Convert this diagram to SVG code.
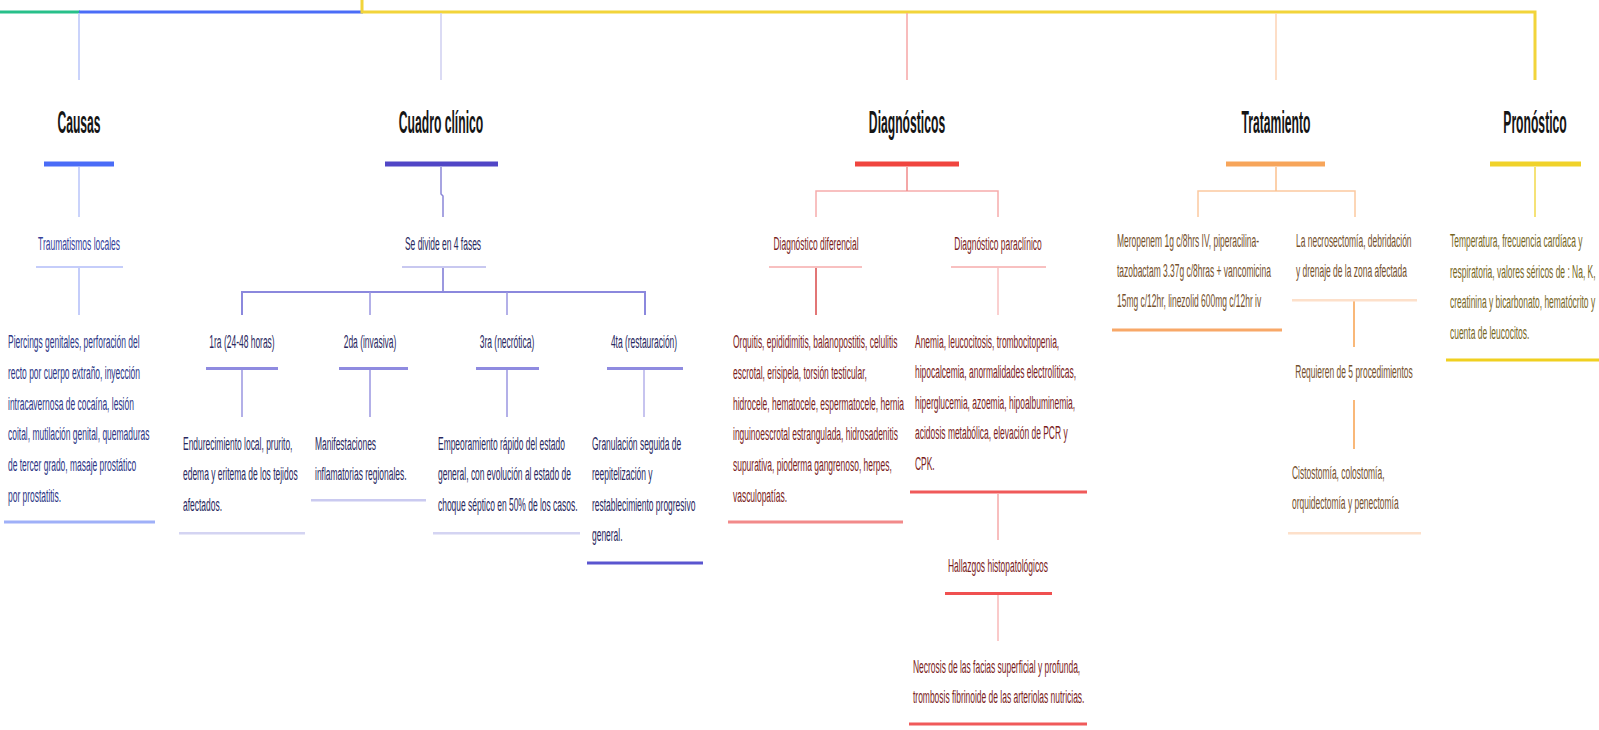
<svg xmlns="http://www.w3.org/2000/svg" width="1599" height="730" viewBox="0 0 1599 730">
<style>
text{font-family:"Liberation Sans",Arial,sans-serif}
.t{font-size:32px;font-weight:bold;fill:#151515;text-anchor:middle}
.b{font-size:18px}
.m{text-anchor:middle}
.cb{fill:#2b3585}
.cc{fill:#28285e}
.cd{fill:#7a1c1c}
.ct{fill:#74502c}
.cp{fill:#76661e}
line,path,polyline{fill:none}
</style>
<rect width="1599" height="730" fill="#ffffff"/>
<g id="connectors">
<line x1="0" y1="12" x2="80" y2="12" stroke="#27c08a" stroke-width="3"/>
<line x1="79" y1="12" x2="363" y2="12" stroke="#4a6cf7" stroke-width="3"/>
<path d="M362,0 V12 H1535 V80" stroke="#f2d43a" stroke-width="3"/>
<line x1="79" y1="13" x2="79" y2="80" stroke="#b8c4fa" stroke-width="1.5"/>
<line x1="441" y1="13" x2="441" y2="80" stroke="#cfcff0" stroke-width="1.5"/>
<line x1="907" y1="13" x2="907" y2="80" stroke="#f6a6a6" stroke-width="1.5"/>
<line x1="1276" y1="13" x2="1276" y2="80" stroke="#fcd3b4" stroke-width="1.5"/>
<line x1="79" y1="167" x2="79" y2="217" stroke="#b8c4fa" stroke-width="1.5"/>
<line x1="79" y1="268" x2="79" y2="315" stroke="#b0bcf8" stroke-width="1.5"/>
<path d="M441,167 V194 L443,196 V217" stroke="#8a86d8" stroke-width="1.5"/>
<line x1="443" y1="268" x2="443" y2="292" stroke="#7a76d4" stroke-width="1.5"/>
<path d="M242,315 V292 H645 V315" stroke="#8b88dd" stroke-width="2"/>
<line x1="370" y1="292" x2="370" y2="315" stroke="#9a96e0" stroke-width="1.5"/>
<line x1="507" y1="292" x2="507" y2="315" stroke="#9a96e0" stroke-width="1.5"/>
<line x1="242" y1="369" x2="242" y2="417" stroke="#9a96e0" stroke-width="1.5"/>
<line x1="370" y1="369" x2="370" y2="417" stroke="#9a96e0" stroke-width="1.5"/>
<line x1="507" y1="369" x2="507" y2="417" stroke="#9a96e0" stroke-width="1.5"/>
<line x1="644" y1="369" x2="644" y2="417" stroke="#b4b0ea" stroke-width="1.5"/>
<path d="M816,217 V191 H998 V217" stroke="#f6acac" stroke-width="1.5"/>
<line x1="907" y1="167" x2="907" y2="191" stroke="#f08a8a" stroke-width="1.5"/>
<line x1="816" y1="268" x2="816" y2="315" stroke="#d84848" stroke-width="1.5"/>
<line x1="998" y1="268" x2="998" y2="315" stroke="#f8c0c0" stroke-width="1.5"/>
<line x1="998" y1="494" x2="998" y2="540" stroke="#f6a8a8" stroke-width="1.5"/>
<line x1="998" y1="595" x2="998" y2="641" stroke="#f8b8b8" stroke-width="1.5"/>
<path d="M1198,217 V191 H1355 V217" stroke="#fbc9a0" stroke-width="1.5"/>
<line x1="1276" y1="167" x2="1276" y2="191" stroke="#fbc08e" stroke-width="1.5"/>
<line x1="1354" y1="301" x2="1354" y2="347" stroke="#f7a04c" stroke-width="1.5"/>
<line x1="1354" y1="400" x2="1354" y2="449" stroke="#f7a04c" stroke-width="1.5"/>
<line x1="1535" y1="167" x2="1535" y2="217" stroke="#f2d84a" stroke-width="1.5"/>
</g>
<g id="causas">
<text class="t" transform="translate(79,133) scale(0.38,1)">Causas</text>
<rect x="44" y="161.5" width="70" height="5" fill="#4a6cf7"/>
</g>
<g id="traumatismos">
<text class="b m" fill="#34409a" transform="translate(79,250) scale(0.47,1)">Traumatismos locales</text>
<rect x="36" y="266" width="87" height="2" fill="#c5cdfa"/>
</g>
<g id="causas-body">
<text class="b cb" transform="translate(8,348) scale(0.47,1)"><tspan x="0">Piercings genitales, perforación del</tspan><tspan x="0" dy="30.8">recto por cuerpo extraño, inyección</tspan><tspan x="0" dy="30.8">intracavernosa de cocaína, lesión</tspan><tspan x="0" dy="30.8">coital, mutilación genital, quemaduras</tspan><tspan x="0" dy="30.8">de tercer grado, masaje prostático</tspan><tspan x="0" dy="30.8">por prostatitis.</tspan></text>
<rect x="4" y="520.5" width="151" height="3" fill="#9fb0f8"/>
</g>
<g id="cuadro">
<text class="t" transform="translate(441,133) scale(0.38,1)">Cuadro clínico</text>
<rect x="385" y="161.5" width="113" height="5" fill="#5146c6"/>
</g>
<g id="fases">
<text class="b m cc" transform="translate(443,250) scale(0.47,1)">Se divide en 4 fases</text>
<rect x="402" y="266" width="84" height="2" fill="#c8c8f0"/>
</g>
<g id="fase1">
<text class="b m cc" transform="translate(242,348) scale(0.47,1)">1ra (24-48 horas)</text>
<rect x="206" y="367" width="72" height="3" fill="#8f8be0"/>
</g>
<g id="fase2">
<text class="b m cc" transform="translate(370,348) scale(0.47,1)">2da (invasiva)</text>
<rect x="339" y="367" width="69" height="3" fill="#8f8be0"/>
</g>
<g id="fase3">
<text class="b m cc" transform="translate(507,348) scale(0.47,1)">3ra (necrótica)</text>
<rect x="476" y="367" width="63" height="3" fill="#8f8be0"/>
</g>
<g id="fase4">
<text class="b m cc" transform="translate(644,348) scale(0.47,1)">4ta (restauración)</text>
<rect x="607" y="367" width="76" height="3" fill="#8f8be0"/>
</g>
<g id="fase1-body">
<text class="b cc" transform="translate(183,450) scale(0.47,1)"><tspan x="0">Endurecimiento local, prurito,</tspan><tspan x="0" dy="30.5">edema y eritema de los tejidos</tspan><tspan x="0" dy="30.5">afectados.</tspan></text>
<rect x="179" y="532" width="126" height="2.5" fill="#d4d4f2"/>
</g>
<g id="fase2-body">
<text class="b cc" transform="translate(315,450) scale(0.47,1)"><tspan x="0">Manifestaciones</tspan><tspan x="0" dy="30.5">inflamatorias regionales.</tspan></text>
<rect x="311" y="499" width="115" height="2.5" fill="#cacaf0"/>
</g>
<g id="fase3-body">
<text class="b cc" transform="translate(438,450) scale(0.47,1)"><tspan x="0">Empeoramiento rápido del estado</tspan><tspan x="0" dy="30.5">general, con evolución al estado de</tspan><tspan x="0" dy="30.5">choque séptico en 50% de los casos.</tspan></text>
<rect x="433" y="532" width="147" height="2.5" fill="#d4d4f2"/>
</g>
<g id="fase4-body">
<text class="b cc" transform="translate(592,450) scale(0.47,1)"><tspan x="0">Granulación seguida de</tspan><tspan x="0" dy="30.5">reepitelización y</tspan><tspan x="0" dy="30.5">restablecimiento progresivo</tspan><tspan x="0" dy="30.5">general.</tspan></text>
<rect x="587" y="561.5" width="116" height="3" fill="#5a55cf"/>
</g>
<g id="diagnosticos">
<text class="t" transform="translate(907,133) scale(0.38,1)">Diagnósticos</text>
<rect x="855" y="161.5" width="104" height="5" fill="#f0453f"/>
</g>
<g id="diferencial">
<text class="b m cd" transform="translate(816,250) scale(0.47,1)">Diagnóstico diferencial</text>
<rect x="769" y="266" width="93" height="2" fill="#f8c0c0"/>
</g>
<g id="paraclinico">
<text class="b m cd" transform="translate(998,250) scale(0.47,1)">Diagnóstico paraclínico</text>
<rect x="951" y="266" width="95" height="2" fill="#f8c0c0"/>
</g>
<g id="diferencial-body">
<text class="b cd" transform="translate(733,348) scale(0.47,1)"><tspan x="0">Orquitis, epididimitis, balanopostitis, celulitis</tspan><tspan x="0" dy="30.8">escrotal, erisipela, torsión testicular,</tspan><tspan x="0" dy="30.8">hidrocele, hematocele, espermatocele, hernia</tspan><tspan x="0" dy="30.8">inguinoescrotal estrangulada, hidrosadenitis</tspan><tspan x="0" dy="30.8">supurativa, pioderma gangrenoso, herpes,</tspan><tspan x="0" dy="30.8">vasculopatías.</tspan></text>
<rect x="728" y="520.5" width="175" height="3" fill="#f28a8a"/>
</g>
<g id="paraclinico-body">
<text class="b cd" transform="translate(915,348) scale(0.47,1)"><tspan x="0">Anemia, leucocitosis, trombocitopenia,</tspan><tspan x="0" dy="30.5">hipocalcemia, anormalidades electrolíticas,</tspan><tspan x="0" dy="30.5">hiperglucemia, azoemia, hipoalbuminemia,</tspan><tspan x="0" dy="30.5">acidosis metabólica, elevación de PCR y</tspan><tspan x="0" dy="30.5">CPK.</tspan></text>
<rect x="910" y="490.5" width="177" height="3" fill="#f05a5a"/>
</g>
<g id="hallazgos">
<text class="b m cd" transform="translate(998,572) scale(0.47,1)">Hallazgos histopatológicos</text>
<rect x="945" y="592" width="107" height="3" fill="#f05050"/>
</g>
<g id="hallazgos-body">
<text class="b cd" transform="translate(913,673) scale(0.47,1)"><tspan x="0">Necrosis de las facias superficial y profunda,</tspan><tspan x="0" dy="30">trombosis fibrinoide de las arteriolas nutricias.</tspan></text>
<rect x="909" y="722.5" width="178" height="3" fill="#f05a5a"/>
</g>
<g id="tratamiento">
<text class="t" transform="translate(1276,133) scale(0.38,1)">Tratamiento</text>
<rect x="1226" y="161.5" width="99" height="5" fill="#f7a55a"/>
</g>
<g id="farmacos">
<text class="b ct" transform="translate(1117,247) scale(0.47,1)"><tspan x="0">Meropenem 1g c/8hrs IV, piperacilina-</tspan><tspan x="0" dy="30">tazobactam 3.37g  c/8hras + vancomicina</tspan><tspan x="0" dy="30">15mg c/12hr, linezolid 600mg c/12hr iv</tspan></text>
<rect x="1112" y="328.5" width="170" height="3" fill="#f8a868"/>
</g>
<g id="necrosectomia">
<text class="b ct" transform="translate(1296,247) scale(0.47,1)"><tspan x="0">La necrosectomía, debridación</tspan><tspan x="0" dy="30.5">y drenaje de la zona afectada</tspan></text>
<rect x="1292" y="299" width="125" height="2.5" fill="#fde0ca"/>
</g>
<g id="procedimientos">
<text class="b m ct" transform="translate(1354,378) scale(0.47,1)">Requieren de 5 procedimientos</text>
</g>
<g id="ostomias">
<text class="b ct" transform="translate(1292,479) scale(0.47,1)"><tspan x="0">Cistostomía, colostomía,</tspan><tspan x="0" dy="30.5">orquidectomía y penectomía</tspan></text>
<rect x="1288" y="532" width="133" height="2.5" fill="#fde0ca"/>
</g>
<g id="pronostico">
<text class="t" transform="translate(1535,133) scale(0.38,1)">Pronóstico</text>
<rect x="1490" y="161.5" width="91" height="5" fill="#f0d22a"/>
</g>
<g id="pronostico-body">
<text class="b cp" transform="translate(1450,247) scale(0.47,1)"><tspan x="0">Temperatura, frecuencia cardíaca y</tspan><tspan x="0" dy="30.6">respiratoria, valores séricos de : Na, K,</tspan><tspan x="0" dy="30.6">creatinina y bicarbonato, hematócrito y</tspan><tspan x="0" dy="30.6">cuenta de leucocitos.</tspan></text>
<rect x="1446" y="358.5" width="153" height="3" fill="#f0d020"/>
</g>
</svg>
